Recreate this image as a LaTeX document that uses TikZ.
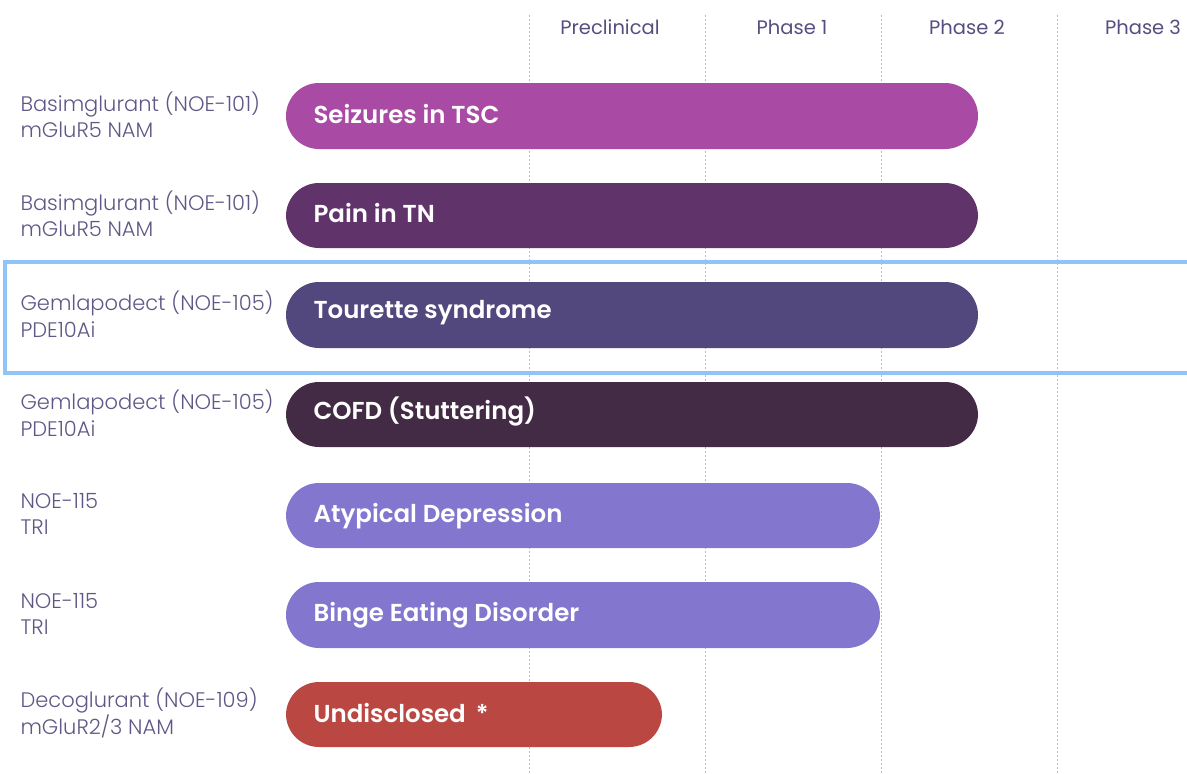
\documentclass[tikz,border=0pt]{standalone}
\usepackage{fontspec}
\setmainfont{Poppins}[UprightFont=* Light]
\newfontfamily\barfont{Poppins}[UprightFont=* SemiBold]
\newfontfamily\phasefont{Poppins}
\definecolor{lbl}{HTML}{5E5886}
\definecolor{phs}{HTML}{564E80}
\definecolor{cA}{HTML}{A94AA5}
\definecolor{cB}{HTML}{61336B}
\definecolor{cC}{HTML}{52487E}
\definecolor{cD}{HTML}{432A45}
\definecolor{cE}{HTML}{8276CF}
\definecolor{cF}{HTML}{BA4742}
\definecolor{hl}{HTML}{90C4F8}
\definecolor{grid}{HTML}{BDBBD2}
\begin{document}
\begin{tikzpicture}[x=1pt,y=-1pt,
  bar/.style={rounded corners=33pt, inner sep=0pt},
  bartext/.style={anchor=west, text=white, font=\barfont\fontsize{24.5}{28}\selectfont},
  lab/.style={anchor=west, align=left, text=lbl, font=\fontsize{21}{26.5}\selectfont},
  phase/.style={text=phs, font=\phasefont\fontsize{19.5}{22}\selectfont},
  gridline/.style={grid, dashed, dash pattern=on 2pt off 2pt, line width=0.6pt}]
\useasboundingbox (0,0) rectangle (1187,774);
% grid lines
\foreach \n/\x in {g1/529,g2/705,g3/881,g4/1057}{
  \coordinate (\n t) at (\x,15);
  \coordinate (\n b) at (\x,774);
  \draw[gridline] (\n t) -- (\n b);
}
\node[phase] (p0) at (610,27) {Preclinical};
\node[phase] (p1) at (792,27) {Phase 1};
\node[phase] (p2) at (967,27) {Phase 2};
\node[phase] (p3) at (1143,27) {Phase 3};
% highlight
\draw[hl, line width=4pt] (1193,262) -- (5,262) -- (5,373) -- (1193,373);
% bars
\fill[cA, bar] (286,83) rectangle (978,149);
\fill[cB, bar] (286,183) rectangle (978,248);
\fill[cC, bar] (286,282) rectangle (978,348);
\fill[cD, bar] (286,382) rectangle (978,447);
\fill[cE, bar] (286,483) rectangle (880,548);
\fill[cE, bar] (286,582) rectangle (880,648);
\fill[cF, bar] (286,682) rectangle (662,747);
\node[bartext] (t1) at (310,114) {Seizures in TSC};
\node[bartext] (t2) at (310,213) {Pain in TN};
\node[bartext] (t3) at (310,313) {Tourette syndrome};
\node[bartext] (t4) at (310,412) {COFD (Stuttering)};
\node[bartext] (t5) at (310,516) {Atypical Depression};
\node[bartext] (t6) at (310,615) {Binge Eating Disorder};
\node[bartext] (t7) at (310,713) {Undisclosed\hspace{10pt}*};
% labels
\node[lab] (l1) at (17,115) {Basimglurant (NOE-101)\\mGluR5 NAM};
\node[lab] (l2) at (17,214) {Basimglurant (NOE-101)\\mGluR5 NAM};
\node[lab] (l3) at (17,314) {Gemlapodect (NOE-105)\\PDE10Ai};
\node[lab] (l4) at (17,413) {Gemlapodect (NOE-105)\\PDE10Ai};
\node[lab] (l5) at (17,514) {NOE-115\\TRI};
\node[lab] (l6) at (17,614) {NOE-115\\TRI};
\node[lab] (l7) at (17,713) {Decoglurant (NOE-109)\\mGluR2/3 NAM};
\end{tikzpicture}
\end{document}
